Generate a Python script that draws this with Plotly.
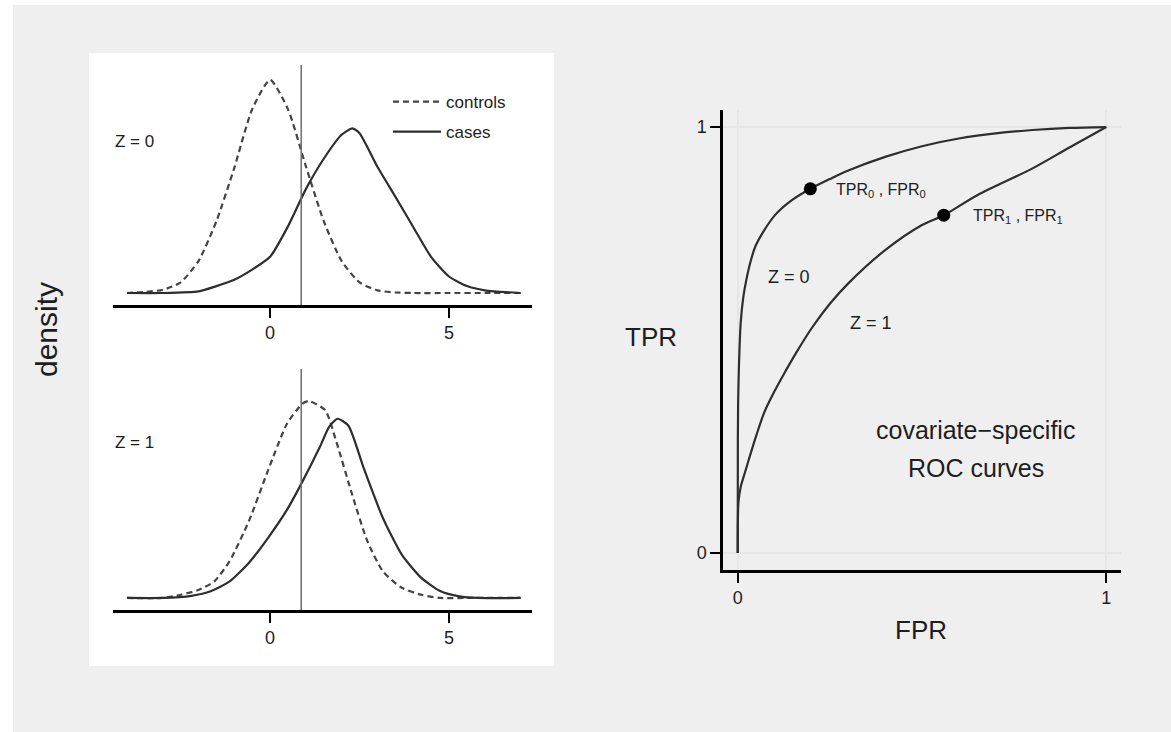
import plotly.graph_objects as go

W, H = 1171, 732

# ---------------- data ----------------
cutoff = 0.87

# Z = 0 densities
x_ctrl0 = [-4, -3.5, -3, -2.5, -2, -1.5, -1, -0.5, 0, 0.5, 1, 1.5, 2, 2.5, 3, 3.5, 4, 5, 6, 7]
d_ctrl0 = [0, 0.002, 0.006, 0.02, 0.06, 0.135, 0.235, 0.345, 0.40, 0.345, 0.238, 0.135, 0.06, 0.02, 0.005, 0.001, 0, 0, 0, 0]
x_case0 = [-4, -3, -2, -1.5, -1, -0.5, 0, 0.5, 1, 1.5, 2, 2.3, 2.5, 3, 3.5, 4, 4.5, 5, 5.5, 6, 7]
d_case0 = [0, 0, 0.003, 0.013, 0.025, 0.044, 0.068, 0.125, 0.195, 0.252, 0.297, 0.309, 0.300, 0.237, 0.181, 0.124, 0.068, 0.031, 0.013, 0.005, 0]

# Z = 1 densities
x_ctrl1 = [-4, -3, -2.5, -2, -1.56, -1.13, -0.59, -0.06, 0.475, 0.9, 1.08, 1.54, 1.87, 2.29, 2.72, 3.15, 3.68, 4.22, 4.75, 5.5, 7]
d_ctrl1 = [0, 0, 0.006, 0.015, 0.031, 0.069, 0.144, 0.238, 0.326, 0.363, 0.368, 0.351, 0.288, 0.194, 0.106, 0.05, 0.019, 0.006, 0, 0, 0]
x_case1 = [-4, -3, -2.2, -1.66, -1.13, -0.59, -0.06, 0.475, 0.9, 1.39, 1.65, 1.886, 2.19, 2.61, 3.15, 3.68, 4.22, 4.75, 5.29, 5.82, 7]
d_case1 = [0, 0, 0.004, 0.0125, 0.031, 0.066, 0.112, 0.165, 0.217, 0.282, 0.320, 0.335, 0.322, 0.244, 0.150, 0.081, 0.038, 0.013, 0.003, 0, 0]

# ROC curves
fpr_z0 = [0, 0.0003, 0.001, 0.003, 0.008, 0.015, 0.023, 0.035, 0.048, 0.07, 0.1, 0.145, 0.197, 0.25, 0.3, 0.4, 0.5, 0.6, 0.7, 0.8, 0.9, 1.0]
tpr_z0 = [0, 0.27, 0.35, 0.43, 0.54, 0.60, 0.64, 0.685, 0.72, 0.755, 0.792, 0.827, 0.855, 0.878, 0.898, 0.93, 0.955, 0.973, 0.985, 0.993, 0.998, 1.0]
fpr_z1 = [0, 0.0005, 0.002, 0.008, 0.02, 0.032, 0.05, 0.072, 0.1, 0.122, 0.16, 0.2, 0.25, 0.3, 0.4, 0.5, 0.559, 0.65, 0.8, 0.9, 1.0]
tpr_z1 = [0, 0.08, 0.12, 0.155, 0.19, 0.225, 0.275, 0.33, 0.38, 0.415, 0.472, 0.527, 0.585, 0.633, 0.711, 0.77, 0.793, 0.84, 0.903, 0.952, 1.0]
fpr_pts = [0.197, 0.559]
tpr_pts = [0.855, 0.793]

dens_ticks = [0, 5]
roc_ticks = [0, 1]

# ---------------- helpers (layout positions in px) ----------------
def fx(px):
    return px / W

def fy(py):
    return 1 - py / H

FONT = "Liberation Sans, Arial, Helvetica, sans-serif"
TXT = "#1e1e1e"
LINE = "#2e2e2e"
DASH = "#444444"

fig = go.Figure()

# density traces
fig.add_trace(go.Scatter(x=x_ctrl0, y=d_ctrl0, mode="lines", name="controls",
                         line=dict(color=DASH, width=2.2, dash="6px,4px", shape="spline", smoothing=0.6),
                         xaxis="x", yaxis="y", showlegend=True, legendgroup="a"))
fig.add_trace(go.Scatter(x=x_case0, y=d_case0, mode="lines", name="cases",
                         line=dict(color=LINE, width=2.2, shape="spline", smoothing=0.6),
                         xaxis="x", yaxis="y", showlegend=True, legendgroup="b"))
fig.add_trace(go.Scatter(x=x_ctrl1, y=d_ctrl1, mode="lines", name="controls",
                         line=dict(color=DASH, width=2.2, dash="6px,4px", shape="spline", smoothing=0.6),
                         xaxis="x2", yaxis="y2", showlegend=False))
fig.add_trace(go.Scatter(x=x_case1, y=d_case1, mode="lines", name="cases",
                         line=dict(color=LINE, width=2.2, shape="spline", smoothing=0.6),
                         xaxis="x2", yaxis="y2", showlegend=False))

# ROC traces
fig.add_trace(go.Scatter(x=fpr_z0, y=tpr_z0, mode="lines", showlegend=False,
                         line=dict(color=LINE, width=2.2, shape="spline", smoothing=0.9),
                         xaxis="x3", yaxis="y3"))
fig.add_trace(go.Scatter(x=fpr_z1, y=tpr_z1, mode="lines", showlegend=False,
                         line=dict(color=LINE, width=2.2, shape="spline", smoothing=0.9),
                         xaxis="x3", yaxis="y3"))
fig.add_trace(go.Scatter(x=fpr_pts, y=tpr_pts, mode="markers", showlegend=False,
                         marker=dict(color="black", size=13),
                         xaxis="x3", yaxis="y3"))

# background panels
shapes = [
    dict(type="rect", xref="paper", yref="paper", x0=fx(13), x1=1, y0=0, y1=fy(5),
         fillcolor="#efefef", line=dict(width=0), layer="below"),
    dict(type="rect", xref="paper", yref="paper", x0=fx(89), x1=fx(554), y0=fy(666), y1=fy(53),
         fillcolor="white", line=dict(width=0), layer="below"),
    # cutoff lines
    dict(type="line", xref="x", yref="y domain", x0=cutoff, x1=cutoff, y0=0, y1=1,
         line=dict(color="#6e6e6e", width=1.5)),
    dict(type="line", xref="x2", yref="y2 domain", x0=cutoff, x1=cutoff, y0=0, y1=1,
         line=dict(color="#6e6e6e", width=1.5)),
]

dens_x = dict(range=[-4.39, 7.32], tickvals=dens_ticks, ticks="outside", ticklen=10, tickwidth=2,
              tickcolor="black", showline=True, linewidth=2.5, linecolor="black",
              showgrid=False, zeroline=False, tickfont=dict(size=18, color=TXT, family=FONT),
              domain=[fx(113), fx(532)])
dens_y = dict(range=[-0.0225, 0.428], visible=False, showgrid=False, zeroline=False)

fig.update_layout(
    width=W, height=H, margin=dict(l=0, r=0, t=0, b=0),
    paper_bgcolor="white", plot_bgcolor="white",
    font=dict(family=FONT, color=TXT),
    shapes=shapes,
    xaxis=dict(dens_x, anchor="y"),
    yaxis=dict(dens_y, domain=[fy(305), fy(65)], anchor="x"),
    xaxis2=dict(dens_x, anchor="y2"),
    yaxis2=dict(dens_y, domain=[fy(610), fy(369)], anchor="x2"),
    xaxis3=dict(range=[-0.04, 1.04], tickvals=roc_ticks, ticks="outside", ticklen=10, tickwidth=2,
                tickcolor="black", showline=True, linewidth=2.5, linecolor="black",
                showgrid=True, gridcolor="#e6e6e6", gridwidth=2, zeroline=False,
                tickfont=dict(size=18, color=TXT, family=FONT),
                domain=[fx(723), fx(1121)], anchor="y3"),
    yaxis3=dict(range=[-0.04, 1.04], tickvals=roc_ticks, ticks="outside", ticklen=10, tickwidth=2,
                tickcolor="black", showline=True, linewidth=2.5, linecolor="black",
                showgrid=True, gridcolor="#e6e6e6", gridwidth=2, zeroline=False,
                tickfont=dict(size=18, color=TXT, family=FONT),
                domain=[fy(570), fy(110)], anchor="x3"),
    legend=dict(x=fx(388), y=fy(84), xanchor="left", yanchor="top", bgcolor="rgba(0,0,0,0)",
                font=dict(size=17, color=TXT, family=FONT), tracegroupgap=5, itemwidth=48),
)

ann = [
    dict(text="density", x=fx(47), y=fy(330), textangle=-90, font=dict(size=30)),
    dict(text="Z = 0", x=fx(134), y=fy(141), font=dict(size=17)),
    dict(text="Z = 1", x=fx(134), y=fy(443), font=dict(size=17)),
    dict(text="TPR", x=fx(651), y=fy(337), font=dict(size=26)),
    dict(text="FPR", x=fx(921), y=fy(630), font=dict(size=26)),
]
for a in ann:
    a.update(xref="paper", yref="paper", showarrow=False, xanchor="center", yanchor="middle")
    fig.add_annotation(**a)

roc_ann = [
    dict(text="TPR<sub>0</sub> , FPR<sub>0</sub>", x=0.262, y=0.852, xanchor="left", font=dict(size=16)),
    dict(text="TPR<sub>1</sub> , FPR<sub>1</sub>", x=0.632, y=0.789, xanchor="left", font=dict(size=16)),
    dict(text="Z = 0", x=0.138, y=0.648, xanchor="center", font=dict(size=18)),
    dict(text="Z = 1", x=0.362, y=0.54, xanchor="center", font=dict(size=18)),
    dict(text="covariate\u2212specific", x=0.646, y=0.289, xanchor="center", font=dict(size=25)),
    dict(text="ROC curves", x=0.646, y=0.200, xanchor="center", font=dict(size=25)),
]
for a in roc_ann:
    a.update(xref="x3", yref="y3", showarrow=False, yanchor="middle")
    fig.add_annotation(**a)

fig.write_html("out.html")
